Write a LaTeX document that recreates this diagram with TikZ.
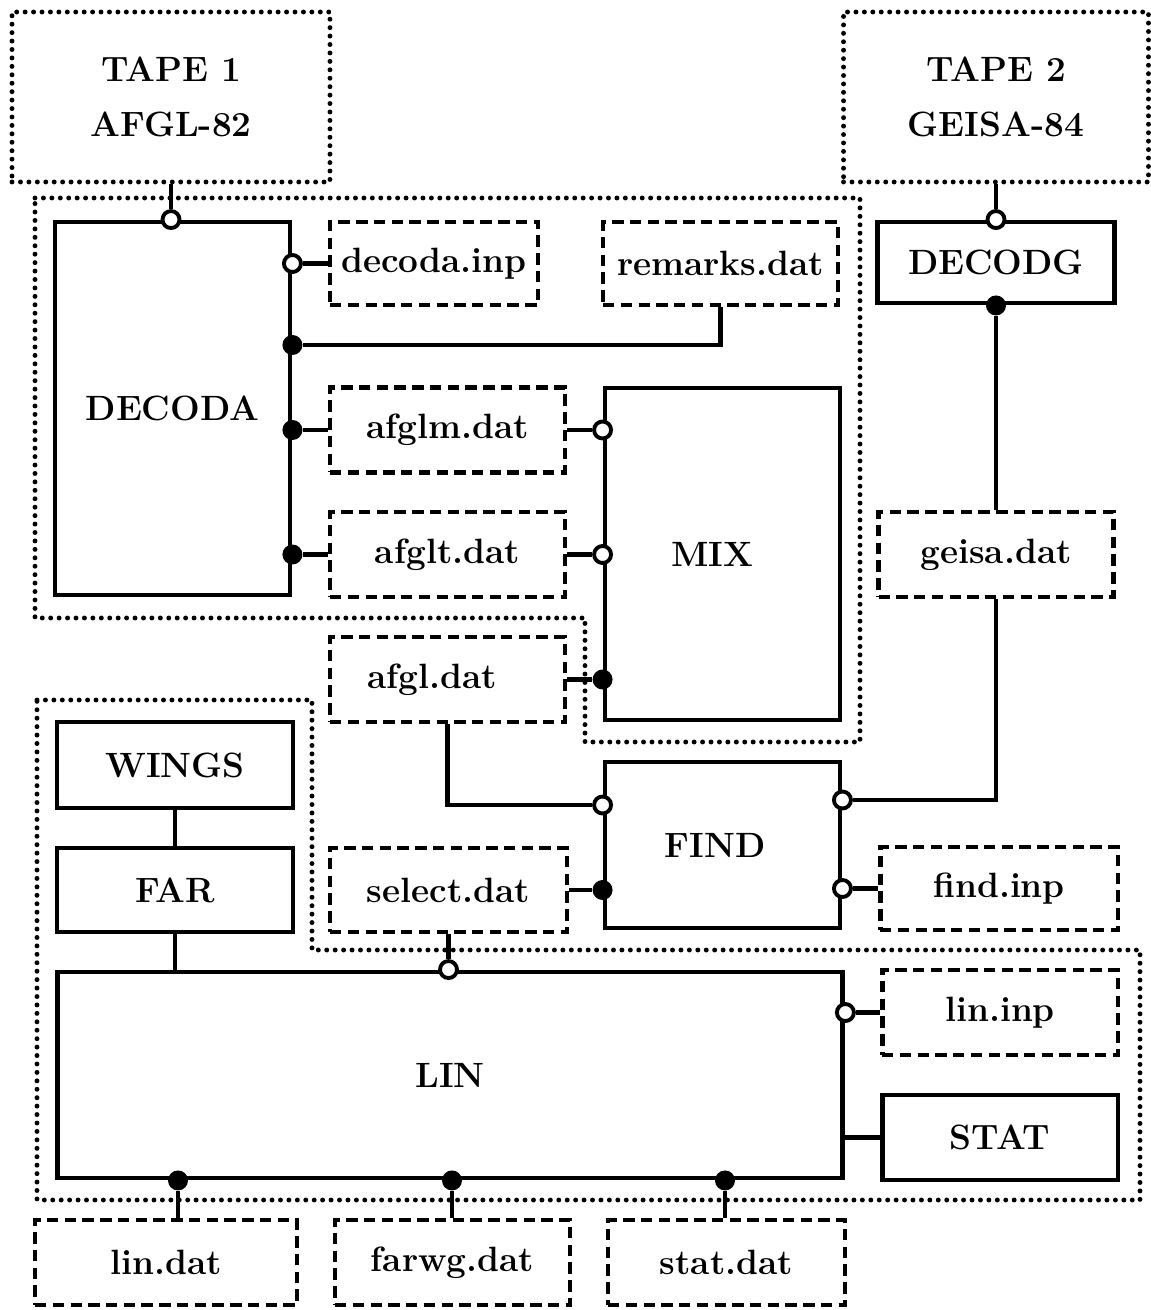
\documentclass[tikz,border=0pt]{standalone}
\usepackage{fontspec}
\begin{document}
\begin{tikzpicture}[x=0.02cm, y=-0.02cm,
    every node/.style={font=\fontsize{20}{31}\selectfont\bfseries, inner sep=0pt},
    prog/.style={draw, line width=2.8pt, minimum width=4.7cm, minimum height=1.7cm},
    file/.style={draw, line width=2.8pt, dash pattern=on 6.5pt off 3.6pt, minimum width=4.7cm, minimum height=1.7cm},
    tape/.style={draw, line width=2.8pt, line cap=round, dash pattern=on 0pt off 4.8pt, minimum height=3.4cm, align=center},
    group/.style={line width=2.8pt, line cap=round, dash pattern=on 0pt off 4.8pt},
    wire/.style={line width=2.8pt},
    opendot/.style={circle, draw, fill=white, line width=2.2pt, minimum size=0.34cm},
    fulldot/.style={circle, fill, minimum size=0.4cm}]
    \useasboundingbox (0,0) rectangle (1150,1310);

    % dotted groups
    \draw[group] (35,198) -- (860,198) -- (860,742) -- (585,742) -- (585,618) -- (35,618) -- cycle;
    \draw[group] (37,700) -- (312,700) -- (312,950) -- (1140,950) -- (1140,1200) -- (37,1200) -- cycle;

    \node[tape, minimum width=6.36cm] (tape1) at (171,97) {TAPE 1\\AFGL-82};
    \node[tape, minimum width=6.1cm] (tape2) at (996,97) {TAPE 2\\GEISA-84};

    \node[prog, minimum height=7.46cm] (decoda) at (172.5,408.5) {DECODA};
    \node[file, minimum width=4.16cm, minimum height=1.66cm] (decodainp) at (434,263.5) {decoda.inp};
    \node[file, minimum height=1.66cm] (remarks) at (720.5,263.5) {remarks.dat};
    \node[file] (afglm) at (447.5,430) {afglm.dat};
    \node[file] (afglt) at (447.5,554.5) {afglt.dat};
    \node[file] (afgl) at (447.5,679.5) {afgl.dat\hspace*{0.6cm}};
    \node[prog, minimum height=6.64cm] (mix) at (722.5,554) {MIX\hspace*{0.4cm}};

    \node[prog, minimum width=4.74cm, minimum height=1.62cm] (decodg) at (996,262.5) {DECODG};
    \node[file] (geisa) at (996,554.5) {geisa.dat};

    \node[prog, minimum height=3.32cm] (find) at (722.5,845) {FIND\hspace*{0.3cm}};
    \node[file, minimum width=4.74cm, minimum height=1.68cm] (select) at (448.5,890) {select.dat};
    \node[file, minimum width=4.76cm, minimum height=1.66cm] (findinp) at (999,888.5) {find.inp};

    \node[prog, minimum width=4.72cm, minimum height=1.72cm] (wings) at (175,765) {WINGS};
    \node[prog, minimum width=4.72cm, minimum height=1.68cm] (far) at (175,890) {FAR};
    \node[prog, minimum width=15.72cm, minimum height=4.12cm] (lin) at (450,1075) {LIN};
    \node[file, minimum width=4.72cm] (lininp) at (1000,1012.5) {lin.inp};
    \node[prog, minimum width=4.72cm] (stat) at (1000,1137.5) {STAT};

    \node[file, minimum width=5.24cm] (lindat) at (166,1262.5) {lin.dat};
    \node[file] (farwg) at (452.5,1262.5) {farwg.dat};
    \node[file, minimum width=4.74cm] (statdat) at (726.5,1262.5) {stat.dat};

    % ports
    \node[opendot] (o1) at (tape1.south |- decoda.north) {};
    \node[opendot] (o2) at (decoda.east |- decodainp.west) {};
    \node[fulldot] (f1) at (decoda.east |- 0,345) {};
    \node[fulldot] (f2) at (decoda.east |- afglm.west) {};
    \node[fulldot] (f3) at (decoda.east |- afglt.west) {};
    \node[opendot] (o3) at (mix.west |- afglm.east) {};
    \node[opendot] (o4) at (mix.west |- afglt.east) {};
    \node[fulldot] (f4) at (mix.west |- afgl.east) {};
    \node[opendot] (o5) at (tape2.south |- decodg.north) {};
    \node[fulldot] (f5) at (tape2.south |- decodg.south) {};
    \node[opendot] (o6) at (find.west |- 0,805) {};
    \node[fulldot] (f6) at (find.west |- select.east) {};
    \node[opendot] (o7) at (find.east |- 0,800) {};
    \node[opendot] (o8) at (find.east |- findinp.west) {};
    \node[opendot] (o9) at (select.south |- lin.north) {};
    \node[opendot] (o10) at (lin.east |- lininp.west) {};
    \foreach \x/\n in {178/f7, 452/f8, 725/f9}
        \node[fulldot] (\n) at (\x,0 |- lin.south) {};

    % wires
    \draw[wire] (tape1.south) -- (o1);
    \draw[wire] (o2) -- (decodainp);
    \draw[wire] (f1) -- (f1 -| remarks.south) -- (remarks.south);
    \draw[wire] (f2) -- (afglm);
    \draw[wire] (f3) -- (afglt);
    \draw[wire] (afglm) -- (o3);
    \draw[wire] (afglt) -- (o4);
    \draw[wire] (afgl.east) -- (f4);
    \draw[wire] (afgl.south) -- (afgl.south |- o6) -- (o6);
    \draw[wire] (tape2.south) -- (o5);
    \draw[wire] (f5) -- (geisa);
    \draw[wire] (geisa.south) -- (geisa.south |- o7) -- (o7);
    \draw[wire] (select) -- (f6);
    \draw[wire] (o8) -- (findinp);
    \draw[wire] (select.south) -- (o9);
    \draw[wire] (wings) -- (far);
    \draw[wire] (far.south) -- (far.south |- lin.north);
    \draw[wire] (o10) -- (lininp);
    \draw[wire] (lin.east |- stat.west) -- (stat.west);
    \foreach \n/\m in {f7/lindat, f8/farwg, f9/statdat}
        \draw[wire] (\n) -- (\n |- \m.north);
\end{tikzpicture}
\end{document}
